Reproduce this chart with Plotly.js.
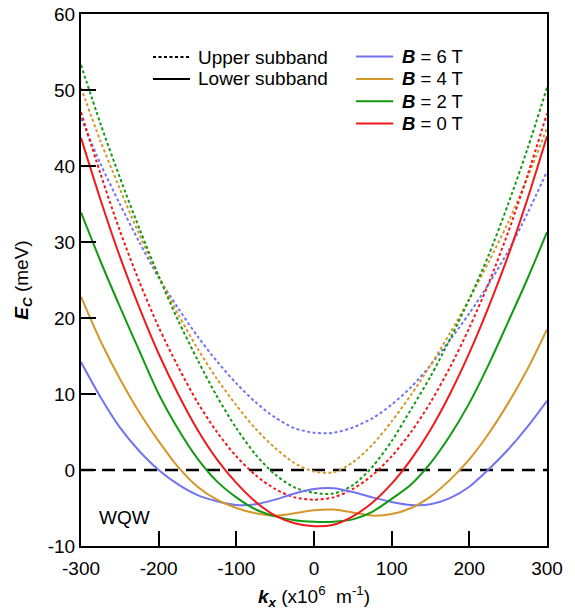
<!DOCTYPE html>
<html>
<head>
<meta charset="utf-8">
<script src="https://cdn.plot.ly/plotly-3.0.1.min.js"></script>
<style>
  html, body { margin: 0; padding: 0; background: #fff; }
  #chart { width: 575px; height: 616px; }
</style>
</head>
<body>
<div id="chart"></div>
<script>
// k_x values (x10^6 m^-1)
const kx = [-300,-275,-250,-225,-200,-175,-150,-125,-100,-75,-50,-25,0,25,50,75,100,125,150,175,200,225,250,275,300];

// Conduction band energies (meV)
const upperB0 = [47.1,39.0,31.5,24.8,18.8,13.6,8.9,5.0,1.8,-0.7,-2.5,-3.6,-3.9,-3.6,-2.5,-0.7,1.8,5.0,8.9,13.5,18.7,24.6,31.3,38.8,46.9];
const lowerB0 = [43.7,35.6,28.1,21.4,15.3,10.0,5.3,1.4,-1.7,-4.2,-6.0,-7.0,-7.4,-7.2,-6.1,-4.3,-1.8,1.4,5.3,10.0,15.4,21.5,28.2,35.7,43.9];
const upperB2 = [53.3,45.6,38.5,31.8,25.5,19.7,14.5,9.7,5.5,2.0,-0.6,-2.3,-3.0,-3.1,-2.0,0.4,3.8,8.0,12.3,17.2,22.5,28.3,35.0,42.3,50.3];
const lowerB2 = [33.9,27.5,21.5,15.7,10.0,5.4,1.5,-1.5,-3.6,-5.2,-6.1,-6.6,-6.8,-6.8,-6.5,-5.5,-3.8,-1.9,0.9,4.5,8.8,13.9,19.5,25.2,31.3];
const upperB4 = [50.3,43.3,37.0,31.0,25.5,20.5,16.0,12.0,8.5,5.4,2.9,0.9,-0.2,-0.3,1.0,3.3,6.4,9.9,13.8,18.0,22.5,27.4,32.6,38.5,45.0];
const lowerB4 = [22.8,17.0,12.0,7.6,3.8,0.4,-2.2,-3.9,-5.0,-5.7,-6.0,-5.7,-5.3,-5.2,-5.6,-6.0,-5.8,-5.0,-3.5,-1.3,1.4,4.8,8.8,13.3,18.5];
const upperB6 = [46.3,40.3,35.0,30.0,25.3,21.3,17.6,14.3,11.4,8.9,6.9,5.5,4.9,4.9,5.6,6.8,8.6,10.9,13.8,17.1,20.6,24.5,28.8,33.8,39.3];
const lowerB6 = [14.2,9.6,5.6,2.5,0.0,-1.9,-3.3,-4.1,-4.6,-4.5,-3.9,-3.1,-2.5,-2.4,-2.9,-3.6,-4.2,-4.6,-4.5,-3.7,-2.2,0.1,2.7,5.7,9.1];

const zeroX = [-300, 300];
const zeroY = [0, 0];

const xTickVals = [-300,-200,-100,0,100,200,300];
const xTickText = ["-300","-200","-100","0","100","200","300"];
const yTickVals = [-10,0,10,20,30,40,50,60];
const yTickText = ["-10","0","10","20","30","40","50","60"];

const fieldLabels = ["6","4","2","0"];

const colB6 = "#7373f2";
const colB4 = "#d4982a";
const colB2 = "#129a12";
const colB0 = "#f01a1a";

function curve(y, color, dotted) {
  return {
    x: kx, y: y, type: "scatter", mode: "lines",
    line: {color: color, width: 2, shape: "spline", smoothing: 0.8, dash: dotted ? "3px,2.5px" : "solid"},
    hoverinfo: "skip", showlegend: false
  };
}

const data = [
  {x: zeroX, y: zeroY, type: "scatter", mode: "lines",
   line: {color: "#000", width: 2.6, dash: "13px,8px"}, hoverinfo: "skip", showlegend: false},
  curve(upperB6, colB6, true),
  curve(upperB4, colB4, true),
  curve(upperB2, colB2, true),
  curve(upperB0, colB0, true),
  curve(lowerB6, colB6, false),
  curve(lowerB4, colB4, false),
  curve(lowerB2, colB2, false),
  curve(lowerB0, colB0, false)
];

const FONT = "Liberation Sans, Arial, Helvetica, sans-serif";

const legCols = [colB6, colB4, colB2, colB0];
const legY = [0.920, 0.878, 0.836, 0.794];

const shapes = [
  {type: "line", xref: "paper", yref: "paper", x0: 0.1545, x1: 0.234, y0: 0.919, y1: 0.919,
   line: {color: "#000", width: 2, dash: "3px,2.5px"}},
  {type: "line", xref: "paper", yref: "paper", x0: 0.1545, x1: 0.234, y0: 0.878, y1: 0.878,
   line: {color: "#000", width: 2}}
];
const annotations = [
  {xref: "paper", yref: "paper", x: 0.247, y: 0.919, xanchor: "left", yanchor: "middle",
   text: "Upper subband", showarrow: false, font: {family: FONT, size: 19, color: "#000"}},
  {xref: "paper", yref: "paper", x: 0.247, y: 0.878, xanchor: "left", yanchor: "middle",
   text: "Lower subband", showarrow: false, font: {family: FONT, size: 19, color: "#000"}},
  {xref: "paper", yref: "paper", x: 0.094, y: 0.053, xanchor: "center", yanchor: "middle",
   text: "WQW", showarrow: false, font: {family: FONT, size: 19, color: "#000"}}
];
for (let i = 0; i < 4; i++) {
  shapes.push({type: "line", xref: "paper", yref: "paper", x0: 0.590, x1: 0.670, y0: legY[i], y1: legY[i],
    line: {color: legCols[i], width: 2}});
  annotations.push({xref: "paper", yref: "paper", x: 0.684, y: legY[i], xanchor: "left", yanchor: "middle",
    text: "<b><i>B</i></b> = " + fieldLabels[i] + " T", showarrow: false,
    font: {family: FONT, size: 18.5, color: "#000"}});
}

const layout = {
  width: 575, height: 616,
  margin: {l: 81, r: 28, t: 14, b: 70},
  paper_bgcolor: "#fff", plot_bgcolor: "#fff",
  font: {family: FONT, size: 19, color: "#000"},
  showlegend: false,
  xaxis: {
    range: [-300, 300], tickmode: "array", tickvals: xTickVals, ticktext: xTickText,
    ticks: "inside", ticklen: 15, tickwidth: 2, tickcolor: "#000",
    showline: true, linecolor: "#000", linewidth: 2, mirror: true,
    showgrid: false, zeroline: false, ticklabelstandoff: 4,
    tickfont: {family: FONT, size: 19, color: "#000"},
    title: {text: "<b><i>k</i></b><sub><b><i>x</i></b></sub> (x10<sup>6</sup>  m<sup>-1</sup>)",
            font: {family: FONT, size: 19, color: "#000"}, standoff: 12}
  },
  yaxis: {
    range: [-10, 60], tickmode: "array", tickvals: yTickVals, ticktext: yTickText,
    ticks: "inside", ticklen: 15, tickwidth: 2, tickcolor: "#000",
    showline: true, linecolor: "#000", linewidth: 2, mirror: true,
    showgrid: false, zeroline: false,
    tickfont: {family: FONT, size: 19, color: "#000"},
    title: {text: "<b><i>E</i></b><sub><b><i>C</i></b></sub> (meV)",
            font: {family: FONT, size: 19, color: "#000"}, standoff: 14}
  },
  shapes: shapes,
  annotations: annotations
};

Plotly.newPlot("chart", data, layout, {displayModeBar: false, staticPlot: true});
</script>
</body>
</html>
